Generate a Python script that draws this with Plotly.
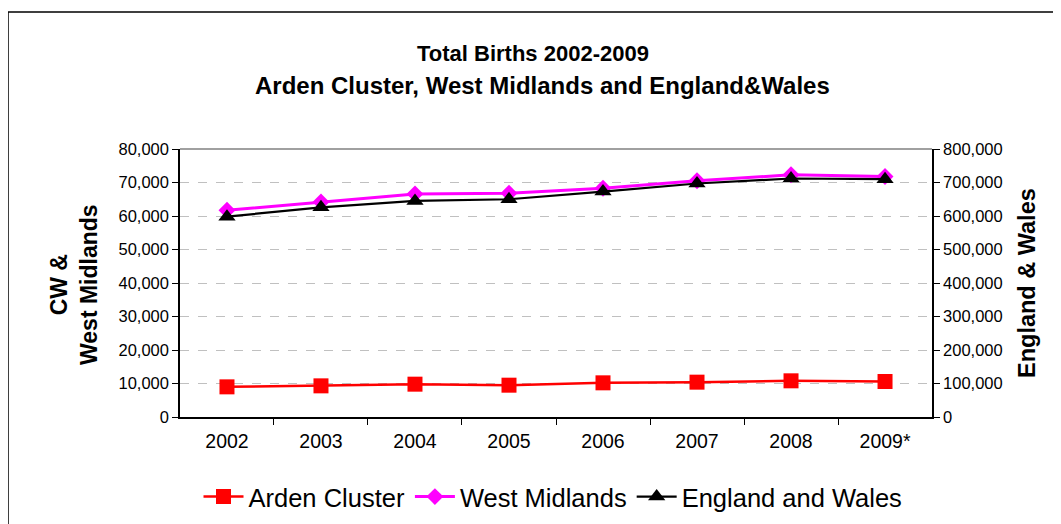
import plotly.graph_objects as go

years = ["2002", "2003", "2004", "2005", "2006", "2007", "2008", "2009*"]
arden = [9000, 9300, 9800, 9500, 10200, 10400, 10800, 10600]
west_midlands = [61700, 64200, 66600, 66800, 68300, 70500, 72300, 71800]
england_wales = [598000, 626000, 645000, 650000, 673000, 697000, 712000, 710000]

left_ticks = list(range(0, 80001, 10000))
right_ticks = list(range(0, 800001, 100000))

FONT = "Arial, Liberation Sans, sans-serif"

fig = go.Figure()
fig.add_trace(go.Scatter(
    x=years, y=arden, name="Arden Cluster", mode="lines+markers",
    line=dict(color="#FF0000", width=2.5),
    marker=dict(symbol="square", size=15, color="#FF0000"),
    yaxis="y"))
fig.add_trace(go.Scatter(
    x=years, y=west_midlands, name="West Midlands", mode="lines+markers",
    line=dict(color="#FF00FF", width=3),
    marker=dict(symbol="diamond", size=13, color="#FF00FF"),
    yaxis="y"))
fig.add_trace(go.Scatter(
    x=years, y=england_wales, name="England and Wales", mode="lines+markers",
    line=dict(color="#000000", width=2.2),
    marker=dict(symbol="triangle-up", size=15, color="#000000"),
    yaxis="y2"))

# page body has an 8px margin; work in reference pixel coordinates minus that offset
OFF = 8
W, H = 1061 - OFF, 524 - OFF
L, R, T, B = 180 - OFF, 932 - OFF, 149 - OFF, 417 - OFF
pw, ph = R - L, B - T

def px(x):
    return (x - OFF - L) / pw

def py(y):
    return (B - (y - OFF)) / ph

fig.update_layout(
    width=W, height=H,
    margin=dict(l=L, r=W - R, t=T, b=H - B, autoexpand=False),
    paper_bgcolor="white", plot_bgcolor="white",
    font=dict(family=FONT, color="black"),
    showlegend=True,
    legend=dict(orientation="h", x=px(553), xanchor="center", y=py(497), yanchor="middle",
                font=dict(size=25.5, family=FONT), itemwidth=40, tracegroupgap=0,
                bgcolor="rgba(0,0,0,0)"),
    xaxis=dict(
        type="category", categoryorder="array", categoryarray=years,
        tickson="boundaries", ticks="outside", ticklen=6, tickcolor="black",
        showline=True, linecolor="black", linewidth=1.5, showgrid=False,
        ticklabelstandoff=6,
        tickfont=dict(size=19.5, family=FONT), fixedrange=True),
    yaxis=dict(
        range=[0, 80000], tickvals=left_ticks, tickformat=",d",
        ticks="outside", ticklen=6, tickcolor="black",
        showline=True, linecolor="black", linewidth=1.5,
        showgrid=True, gridcolor="#C0C0C0", griddash="dash", gridwidth=1,
        zeroline=False, tickfont=dict(size=16.5, family=FONT)),
    yaxis2=dict(
        range=[0, 800000], tickvals=right_ticks, tickformat=",d",
        overlaying="y", side="right",
        ticks="outside", ticklen=6, tickcolor="black",
        showline=True, linecolor="black", linewidth=1.5,
        showgrid=False, zeroline=False, tickfont=dict(size=16.5, family=FONT)),
    shapes=[
        dict(type="line", xref="paper", yref="paper", x0=0, x1=1, y0=1, y1=1,
             line=dict(color="#808080", width=1.5)),
        dict(type="rect", xref="paper", yref="paper",
             x0=px(8), x1=px(1075), y0=py(12), y1=py(545),
             line=dict(color="black", width=1.5), layer="below"),
    ],
    annotations=[
        dict(text="<b>Total Births 2002-2009</b>", xref="paper", yref="paper",
             x=px(533), y=py(53), xanchor="center", yanchor="middle", showarrow=False,
             font=dict(size=22, family=FONT)),
        dict(text="<b>Arden Cluster, West Midlands and England&amp;Wales</b>", xref="paper", yref="paper",
             x=px(542), y=py(85), xanchor="center", yanchor="middle", showarrow=False,
             font=dict(size=24, family=FONT)),
        dict(text="<b>CW &amp;<br>West Midlands</b>", xref="paper", yref="paper",
             x=px(74), y=py(285), xanchor="center", yanchor="middle", showarrow=False,
             textangle=-90, font=dict(size=23, family=FONT)),
        dict(text="<b>England &amp; Wales</b>", xref="paper", yref="paper",
             x=px(1027), y=py(283), xanchor="center", yanchor="middle", showarrow=False,
             textangle=-90, font=dict(size=23.5, family=FONT)),
    ],
)

fig.write_html("out.html")
